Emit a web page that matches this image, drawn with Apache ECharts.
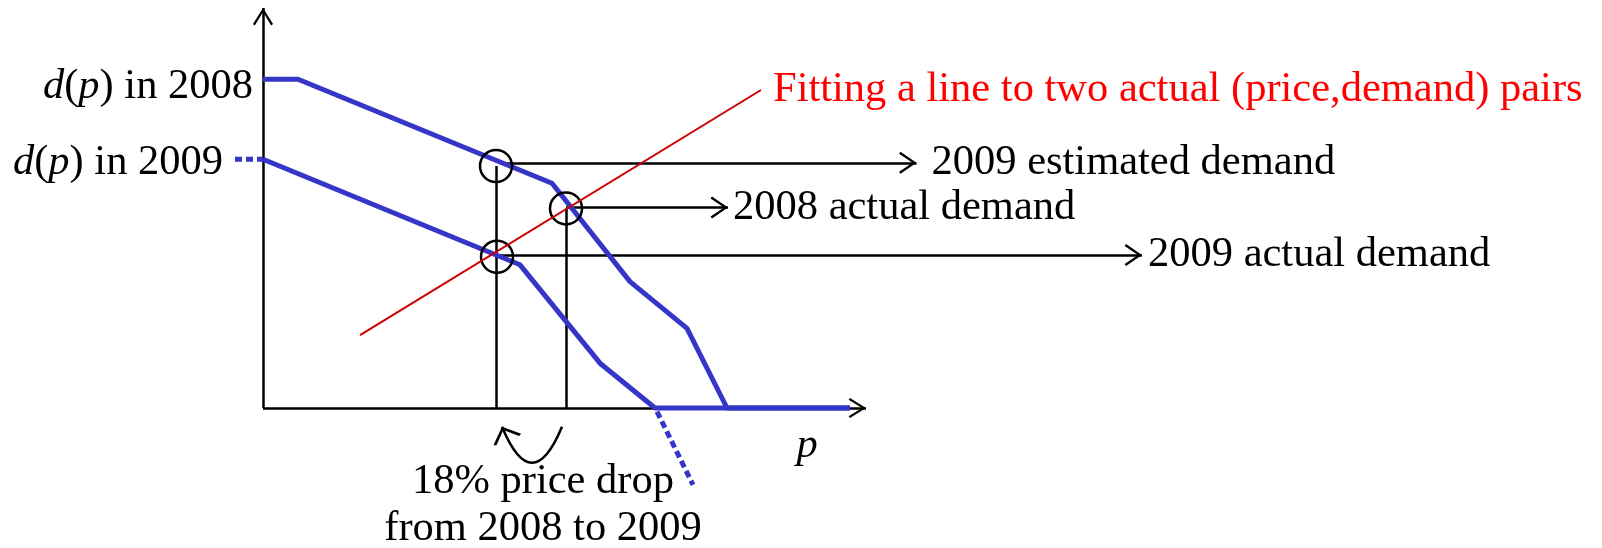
<!DOCTYPE html>
<html>
<head>
<meta charset="utf-8">
<script src="https://cdn.jsdelivr.net/npm/echarts@6/dist/echarts.min.js"></script>
<style>
  html, body { margin: 0; padding: 0; background: #fff; }
  #chart { width: 1602px; height: 548px; }
</style>
</head>
<body>
<div id="chart"></div>
<script>
// demand curves (p along x, demand up)
var price2008 = [0, 3.5, 28.9, 36.7, 42.4, 46.4, 58.7];
var demand2008 = [82.2, 82.2, 56.2, 31.6, 19.9, 0, 0];
var price2009 = [0, 25.7, 33.7, 39.2, 58.7];
var demand2009 = [62.2, 35.8, 11.2, 0, 0];
// dotted bits of the 2009 curve
var stubPrice = [-2.8, 0];
var stubDemand = [62.2, 62.2];
var tailPrice = [39.4, 43.0];
var tailDemand = [-0.9, -19.2];
// red fitted line
var fitPrice = [9.7, 49.8];
var fitDemand = [18.2, 79.5];
// circled points
var circlePrice = [23.3, 30.3, 23.4];
var circleDemand = [60.5, 49.9, 37.8];
// arrows pointing to the right-hand texts
var arrowNames = ['2009 estimated demand', '2008 actual demand', '2009 actual demand'];
var arrowFrom = [23.7, 30.3, 23.4];
var arrowTo = [65.35, 46.5, 87.9];
var arrowDemand = [61.3, 50.1, 38.25];
// axis ends
var axisPEnd = 60.3;
var axisDEnd = 100;
// curved "18% price drop" arrow
var dropFrom = [29.9, -4.7];
var dropTo = [23.9, -4.7];

var FONT = 'Liberation Serif';
var FS = 42.5;
var BLUE = '#3535c8';
// open arrow head, tip at the centre of its box
var ARROW = 'path://M11,0.6L11.01,0.6L11,0.6Z M11,18L22,34L20,35.4L11,22L2,35.4L0,34Z';

function zip(xs, ys) {
  return xs.map(function (x, i) { return [x, ys[i]]; });
}

var chart = echarts.init(document.getElementById('chart'));

var guideLines = [
  [{ coord: [0, 0] }, { coord: [0, axisDEnd], symbol: ARROW, symbolSize: [20, 34.8] }],
  [{ coord: [0, 0] }, { coord: [axisPEnd, 0], symbol: ARROW, symbolSize: [20, 34.8] }],
  [{ coord: [circlePrice[0], circleDemand[0]] }, { coord: [circlePrice[0], 0] }],
  [{ coord: [circlePrice[1], circleDemand[1]] }, { coord: [circlePrice[1], 0] }]
];
var labelGap = [15, 5, 6];
arrowNames.forEach(function (name, i) {
  guideLines.push([
    { coord: [arrowFrom[i], arrowDemand[i]] },
    { coord: [arrowTo[i], arrowDemand[i]], symbol: ARROW, symbolSize: [22, 34.8],
      label: { show: true, position: 'end', distance: labelGap[i], formatter: name } }
  ]);
});

var bigText = { color: '#000', fontSize: FS, fontFamily: FONT };
var italic = { fontStyle: 'italic', fontSize: FS, fontFamily: FONT, color: '#000' };

var option = {
  animation: false,
  backgroundColor: '#fff',
  grid: { left: 0, right: 0, top: 0, bottom: 0 },
  xAxis: { type: 'value', min: -26.3, max: 133.9, show: false },
  yAxis: { type: 'value', min: -35, max: 102, show: false },
  series: [
    {
      name: 'guides', type: 'line', data: [],
      markLine: {
        silent: true, z: 1, symbol: ['none', 'none'],
        lineStyle: { color: '#000', width: 2.5, type: 'solid' },
        label: Object.assign({ show: false }, bigText),
        data: guideLines
      }
    },
    {
      name: 'price drop', type: 'lines', coordinateSystem: 'cartesian2d', z: 2, silent: true,
      symbol: ['none', ARROW], symbolSize: [18, 30],
      lineStyle: { color: '#000', width: 2.5, opacity: 1, curveness: 1.2 },
      data: [{ coords: [dropFrom, dropTo] }]
    },
    {
      name: 'd 2008', type: 'line', z: 3, data: zip(price2008, demand2008),
      showSymbol: false, lineStyle: { color: BLUE, width: 5 },
      markPoint: {
        symbol: 'circle', symbolSize: 0, silent: true,
        data: [{ coord: [price2008[0], demand2008[0]] }],
        label: Object.assign({ show: true, position: 'left', distance: 10, padding: [16, 0, 0, 0],
          formatter: '{i|d}({i|p}) in 2008', rich: { i: italic } }, bigText)
      }
    },
    {
      name: 'd 2009', type: 'line', z: 3, data: zip(price2009, demand2009),
      showSymbol: false, lineStyle: { color: BLUE, width: 5 }
    },
    {
      name: 'd 2009 stub', type: 'line', z: 3, data: zip(stubPrice, stubDemand),
      showSymbol: false, lineStyle: { color: BLUE, width: 5, type: [7, 4], cap: 'butt' },
      markPoint: {
        symbol: 'circle', symbolSize: 0, silent: true,
        data: [{ coord: [stubPrice[0], stubDemand[0]] }],
        label: Object.assign({ show: true, position: 'left', distance: 12, padding: [8, 0, 0, 0],
          formatter: '{i|d}({i|p}) in 2009', rich: { i: italic } }, bigText)
      }
    },
    {
      name: 'd 2009 tail', type: 'line', z: 3, data: zip(tailPrice, tailDemand),
      showSymbol: false, lineStyle: { color: BLUE, width: 5, type: [7, 4], cap: 'butt' }
    },
    {
      name: 'fit', type: 'line', z: 5, data: zip(fitPrice, fitDemand),
      showSymbol: false, lineStyle: { color: '#cc0000', width: 2 },
      endLabel: { show: true, distance: 12, padding: [4, 0, 0, 0],
        formatter: 'Fitting a line to two actual (price,demand) pairs',
        color: '#ff0000', fontSize: FS, fontFamily: FONT }
    },
    {
      name: 'circles', type: 'scatter', z: 4, data: zip(circlePrice, circleDemand),
      symbol: 'circle', symbolSize: 32, silent: true,
      itemStyle: { color: 'rgba(0,0,0,0)', borderColor: '#000', borderWidth: 2.5, opacity: 1 }
    },
    {
      name: 'notes', type: 'scatter', z: 4, symbolSize: 0, silent: true,
      itemStyle: { opacity: 1 },
      label: Object.assign({ show: true, position: 'inside' }, bigText),
      data: [
        { value: [54.4, -9.5], label: { formatter: '{i|p}', rich: { i: italic } } },
        { value: [28.0, -24.45], label: { formatter: '18% price drop\nfrom 2008 to 2009', lineHeight: 47, align: 'center' } }
      ]
    }
  ]
};
chart.setOption(option);
</script>
</body>
</html>
